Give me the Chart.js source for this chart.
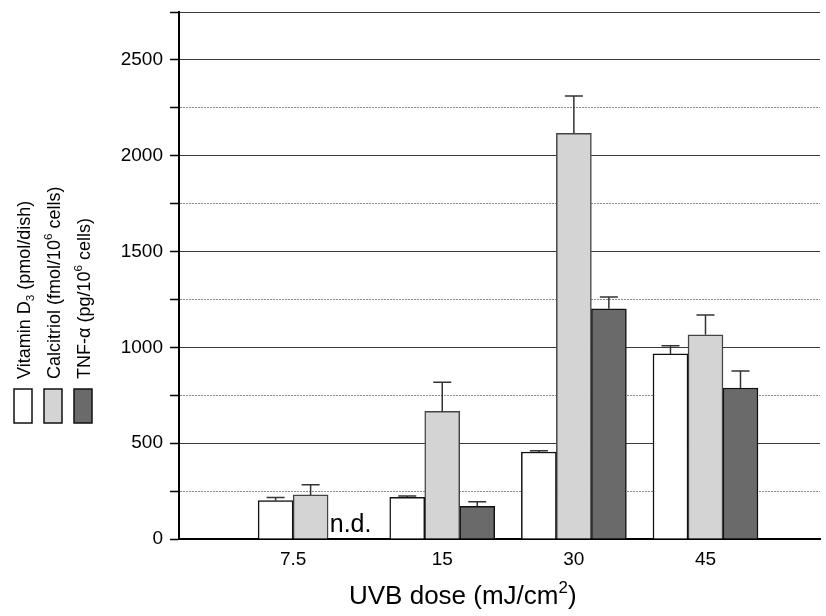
<!DOCTYPE html>
<html>
<head>
<meta charset="utf-8">
<script src="https://cdn.jsdelivr.net/npm/chart.js@4/dist/chart.umd.min.js"></script>
<style>
  body { margin: 0; background: #fff; }
</style>
</head>
<body>
<canvas id="uvbChart" width="826" height="616"></canvas>
<script>
// UVB dose categories and group positions on the x scale
const doses = ['7.5', '15', '30', '45'];
const groupPos = [0, 1, 2, 3];

// Means and SD (upper error only)
const vitD = [200, 218, 454, 966];
const vitDErr = [17, 6, 7, 43];
const calcitriol = [230, 666, 2117, 1066];
const calcitriolErr = [53, 152, 195, 103];
const tnf = [null, 171, 1201, 788];   // null = n.d.
const tnfErr = [null, 24, 62, 89];

// Y axis
const yMax = 2750;
const yStep = 250;
const yLabelStep = 500;

const FONT = "'Liberation Sans', Arial, sans-serif";

const seriesLabels = [
  [{ t: 'Vitamin D' }, { t: '3', s: 'sub' }, { t: ' (pmol/dish)' }],
  [{ t: 'Calcitriol (fmol/10' }, { t: '6', s: 'sup' }, { t: ' cells)' }],
  [{ t: 'TNF-\u03b1 (pg/10' }, { t: '6', s: 'sup' }, { t: ' cells)' }]
];
const errors = [vitDErr, calcitriolErr, tnfErr];

function points(values) {
  return groupPos.map((p, i) => ({ x: p, y: values[i] }));
}

// draw text with sub/superscripts, starting at x, baseline y
function drawRich(ctx, parts, x, y, size) {
  let cx = x;
  parts.forEach(part => {
    let fs = size, dy = 0;
    if (part.s === 'sub') { fs = size * 0.65; dy = size * 0.25; }
    if (part.s === 'sup') { fs = size * 0.65; dy = -size * 0.42; }
    ctx.font = fs + 'px ' + FONT;
    ctx.fillText(part.t, cx, y + dy);
    cx += ctx.measureText(part.t).width;
  });
}

const errorBarPlugin = {
  id: 'errorBars',
  afterDatasetsDraw(chart) {
    const ctx = chart.ctx;
    const yScale = chart.scales.y;
    ctx.save();
    ctx.strokeStyle = '#333';
    ctx.lineWidth = 1.5;
    chart.data.datasets.forEach((ds, di) => {
      const meta = chart.getDatasetMeta(di);
      meta.data.forEach((bar, i) => {
        const v = ds.data[i].y;
        const e = errors[di][i];
        if (v === null || e === null) return;
        const yTop = yScale.getPixelForValue(v + e);
        ctx.beginPath();
        ctx.moveTo(bar.x, bar.y);
        ctx.lineTo(bar.x, yTop);
        ctx.moveTo(bar.x - 9, yTop);
        ctx.lineTo(bar.x + 9, yTop);
        ctx.stroke();
      });
    });
    ctx.restore();
  }
};

const textPlugin = {
  id: 'texts',
  afterDraw(chart) {
    const ctx = chart.ctx;
    const area = chart.chartArea;
    const xScale = chart.scales.x;
    ctx.save();
    ctx.fillStyle = '#000';

    // n.d. marker in the empty TNF slot
    const tnfMeta = chart.getDatasetMeta(2);
    tnf.forEach((v, i) => {
      if (v !== null) return;
      let x = tnfMeta.data[i] ? tnfMeta.data[i].x : NaN;
      if (!isFinite(x)) x = xScale.getPixelForValue(groupPos[i]) + 35;
      ctx.font = '25px ' + FONT;
      ctx.textAlign = 'center';
      ctx.textBaseline = 'alphabetic';
      ctx.fillText('n.d.', x + 5, area.bottom - 7);
    });

    // dose labels centred under the drawn bars of each group
    ctx.font = '19px ' + FONT;
    ctx.textAlign = 'center';
    ctx.textBaseline = 'alphabetic';
    doses.forEach((d, i) => {
      let lo = Infinity, hi = -Infinity;
      chart.data.datasets.forEach((ds, di) => {
        const bar = chart.getDatasetMeta(di).data[i];
        if (ds.data[i].y === null || !bar) return;
        lo = Math.min(lo, bar.x - bar.width / 2);
        hi = Math.max(hi, bar.x + bar.width / 2);
      });
      ctx.fillText(d, (lo + hi) / 2, area.bottom + 26);
    });

    // x axis title
    ctx.textAlign = 'left';
    drawRich(ctx, [{ t: 'UVB dose (mJ/cm' }, { t: '2', s: 'sup' }, { t: ')' }], area.left + 170, area.bottom + 65, 26);

    // rotated legend on the left
    chart.data.datasets.forEach((ds, di) => {
      const cx = 23 + di * 30;
      ctx.fillStyle = ds.backgroundColor;
      ctx.strokeStyle = '#111';
      ctx.lineWidth = 1.5;
      ctx.fillRect(cx - 9, 389, 18, 34);
      ctx.strokeRect(cx - 9, 389, 18, 34);
      ctx.save();
      ctx.translate(cx + 6.5, 379);
      ctx.rotate(-Math.PI / 2);
      ctx.fillStyle = '#000';
      ctx.textAlign = 'left';
      drawRich(ctx, seriesLabels[di], 0, 0, 18);
      ctx.restore();
    });
    ctx.restore();
  }
};

const barBase = {
  borderWidth: 1.5,
  borderSkipped: 'bottom',
  barThickness: 35
};

new Chart(document.getElementById('uvbChart'), {
  type: 'bar',
  data: {
    datasets: [
      Object.assign({ label: 'Vitamin D3', data: points(vitD), backgroundColor: '#ffffff', borderColor: '#111' }, barBase),
      Object.assign({ label: 'Calcitriol', data: points(calcitriol), backgroundColor: '#d4d4d4', borderColor: '#444' }, barBase),
      Object.assign({ label: 'TNF-alpha', data: points(tnf), backgroundColor: '#6a6a6a', borderColor: '#111' }, barBase)
    ]
  },
  options: {
    responsive: false,
    animation: false,
    layout: { padding: { top: 12, right: 6, left: 0, bottom: 0 } },
    plugins: {
      legend: { display: false },
      tooltip: { enabled: false }
    },
    scales: {
      x: {
        type: 'linear',
        offset: false,
        min: -1,
        max: 3.87,
        ticks: { display: false },
        grid: { display: false },
        border: { display: true, color: '#000', width: 2 },
        afterFit: scale => { scale.height = 77; scale.paddingLeft = 0; scale.paddingRight = 0; }
      },
      y: {
        min: 0,
        max: yMax,
        ticks: {
          stepSize: yStep,
          padding: 7,
          color: '#000',
          font: { family: FONT, size: 19 },
          callback: v => (v % yLabelStep === 0 ? v : '')
        },
        grid: {
          color: c => (c.tick && c.tick.value % yLabelStep !== 0 && c.tick.value !== yMax ? '#8a8a8a' : '#3a3a3a'),
          lineWidth: 1,
          tickLength: 9,
          tickColor: '#000',
          tickWidth: 1.5
        },
        border: {
          color: '#000',
          width: 2,
          dash: c => (c.tick && c.tick.value % yLabelStep !== 0 && c.tick.value !== yMax ? [2, 1] : [])
        },
        afterFit: scale => { scale.width = 179; scale.paddingTop = 0; scale.paddingBottom = 0; }
      }
    }
  },
  plugins: [errorBarPlugin, textPlugin]
});
</script>
</body>
</html>
